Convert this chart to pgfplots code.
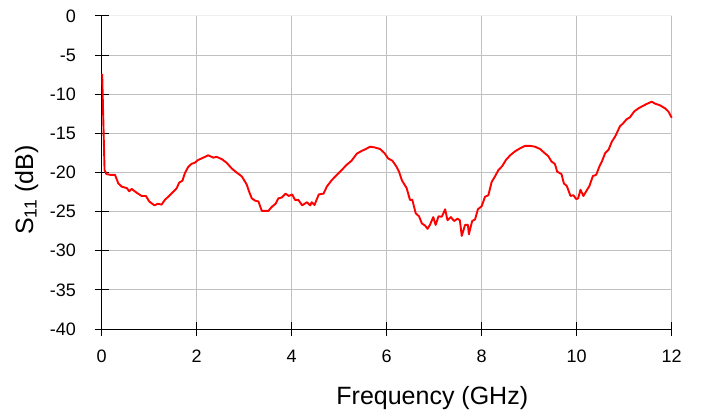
\documentclass[border=0pt]{standalone}
\usepackage{fontspec}
\setmainfont{Liberation Sans}
\usepackage{pgfplots}
\pgfplotsset{compat=1.18}
\usepackage{pgfplotstable}
\definecolor{gridgray}{RGB}{192,192,192}
\definecolor{topgray}{RGB}{238,238,238}
\pgfplotstableread{
x y
0.01 -7.4
0.06 -19.7
0.10 -20.2
0.18 -20.3
0.28 -20.3
0.35 -21.4
0.42 -21.8
0.53 -22.0
0.58 -22.4
0.63 -22.1
0.74 -22.6
0.84 -23.0
0.93 -23.0
1.00 -23.7
1.11 -24.2
1.18 -24.0
1.26 -24.1
1.33 -23.5
1.40 -23.1
1.51 -22.45
1.58 -22.0
1.63 -21.3
1.70 -21.05
1.75 -20.1
1.82 -19.3
1.89 -18.9
1.96 -18.75
2.03 -18.4
2.14 -18.1
2.24 -17.8
2.35 -18.1
2.42 -18.0
2.53 -18.3
2.63 -18.75
2.74 -19.5
2.84 -20.0
2.95 -20.5
3.05 -21.5
3.10 -22.4
3.16 -23.3
3.23 -23.6
3.30 -23.7
3.37 -24.9
3.44 -24.9
3.51 -24.9
3.58 -24.4
3.66 -24.0
3.72 -23.3
3.79 -23.2
3.87 -22.7
3.94 -23.0
4.01 -22.8
4.07 -23.5
4.14 -23.5
4.22 -24.2
4.32 -23.8
4.39 -24.2
4.42 -23.8
4.48 -24.15
4.57 -22.8
4.67 -22.7
4.74 -21.8
4.84 -21.0
4.95 -20.3
5.05 -19.7
5.16 -19.0
5.26 -18.5
5.37 -17.6
5.47 -17.25
5.56 -17.0
5.65 -16.7
5.75 -16.8
5.86 -17.0
5.95 -17.5
6.03 -18.2
6.12 -18.5
6.20 -19.2
6.26 -19.9
6.32 -21.0
6.42 -22.0
6.49 -23.5
6.54 -23.5
6.61 -25.2
6.68 -25.6
6.74 -26.5
6.81 -26.8
6.86 -27.2
6.91 -26.7
6.98 -25.7
7.03 -26.7
7.09 -25.6
7.16 -25.65
7.23 -24.7
7.28 -26.1
7.35 -25.7
7.42 -26.2
7.49 -25.9
7.54 -26.1
7.58 -28.1
7.65 -26.7
7.71 -26.7
7.73 -27.9
7.80 -26.2
7.86 -26.0
7.92 -24.7
8.00 -24.3
8.07 -23.1
8.14 -22.9
8.21 -21.2
8.28 -20.5
8.35 -19.7
8.43 -19.2
8.51 -18.4
8.60 -17.8
8.70 -17.3
8.81 -16.9
8.91 -16.6
9.02 -16.6
9.12 -16.7
9.23 -17.0
9.33 -17.55
9.40 -17.9
9.47 -18.6
9.54 -18.9
9.59 -19.9
9.68 -20.2
9.73 -21.4
9.79 -21.7
9.87 -23.0
9.93 -22.9
9.99 -23.4
10.03 -23.3
10.08 -22.2
10.14 -23.0
10.21 -22.3
10.27 -21.7
10.34 -20.45
10.41 -20.3
10.48 -19.2
10.53 -18.6
10.60 -17.5
10.67 -17.1
10.74 -16.05
10.81 -15.4
10.91 -14.1
10.98 -13.7
11.05 -13.2
11.12 -12.95
11.21 -12.2
11.30 -11.8
11.39 -11.5
11.47 -11.25
11.58 -10.95
11.65 -11.2
11.75 -11.4
11.86 -11.8
11.93 -12.2
12.00 -13.0
}\sone
\begin{document}
\begin{tikzpicture}
\useasboundingbox (-101.7bp,-83bp) rectangle (599.3bp,329bp);
\begin{axis}[
  at={(0,0)}, anchor=south west,
  scale only axis,
  width=570bp, height=313bp,
  xmin=0, xmax=12, ymin=-40, ymax=0,
  axis x line*=bottom, axis y line*=left,
  axis line style={black, line width=1bp, -},
  xtick={0,2,...,12},
  xticklabels={0,2,4,6,8,10,12},
  ytick={-40,-35,...,-5},
  yticklabels={-40,-35,-30,-25,-20,-15,-10,-5},
  extra y ticks={0},
  extra y tick labels={0},
  extra y tick style={major grid style={topgray, line width=1bp}},
  tick align=center,
  major tick length=14bp,
  tick style={black, line width=1bp},
  grid=major,
  major grid style={gridgray, line width=1bp},
  tick label style={font=\fontsize{18bp}{20bp}\selectfont},
  xticklabel style={anchor=north, inner sep=0pt},
  yticklabel style={anchor=east, inner sep=0pt},
  xticklabel shift=14bp,
  yticklabel shift=18.7bp,
  xlabel={Frequency (GHz)},
  ylabel={S\textsubscript{11} (dB)},
  label style={font=\fontsize{25bp}{28bp}\selectfont},
  xlabel style={at={(rel axis cs:0.58,-0.2428)}, anchor=base, inner sep=0pt},
  ylabel style={at={(rel axis cs:-0.1205,0.444)}, anchor=base, inner sep=0pt},
  clip=false,
]
\addplot[color={rgb,255:red,255;green,0;blue,0}, line width=1.9bp, line join=round] table[x=x,y=y] {\sone};
\end{axis}
\end{tikzpicture}
\end{document}
